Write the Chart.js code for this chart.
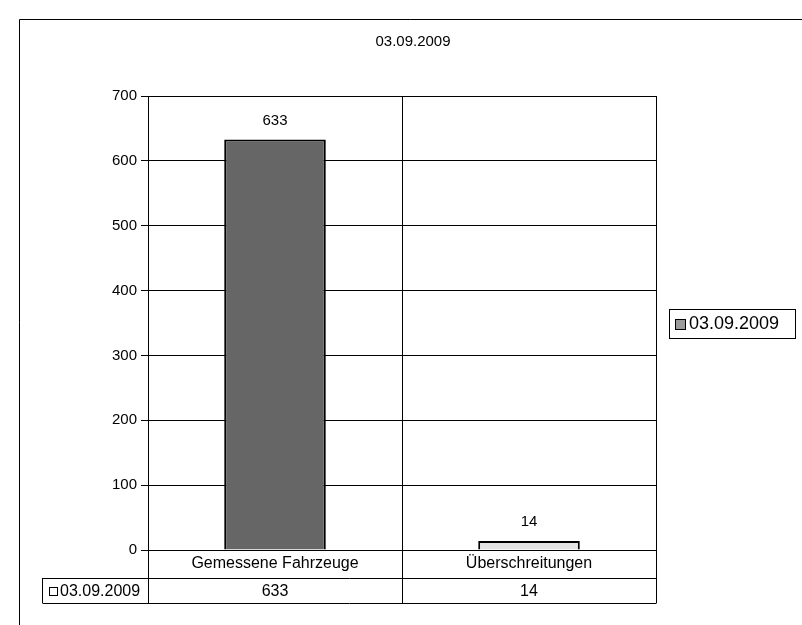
<!DOCTYPE html>
<html>
<head>
<meta charset="utf-8">
<script src="https://cdn.jsdelivr.net/npm/chart.js@4"></script>
<style>
html,body{margin:0;padding:0;background:#fff;}
#wrap{width:802px;height:625px;position:relative;}
</style>
</head>
<body>
<div id="wrap"><canvas id="c" width="802" height="625"></canvas></div>
<script>
const titleText = "03.09.2009";
const seriesName = "03.09.2009";
const categories = ["Gemessene Fahrzeuge", "Überschreitungen"];
const values = [633, 14];
const yTicks = [0, 100, 200, 300, 400, 500, 600, 700];
const barColors = ["#666666", "#e4e4e4"];
const legendKeyColor = "#9a9a9a";

const FONT = "'Liberation Sans', Arial, sans-serif";

const decor = {
  id: "decor",
  afterDatasetsDraw(chart) {
    const ctx = chart.ctx;
    const area = chart.chartArea;
    const xs = chart.scales.x;
    const meta = chart.getDatasetMeta(0);
    ctx.save();
    // data labels
    ctx.fillStyle = "#000";
    ctx.font = "15px " + FONT;
    ctx.textAlign = "center";
    ctx.textBaseline = "middle";
    meta.data.forEach((bar, i) => {
      ctx.fillText(String(values[i]), bar.x, bar.y - 19);
    });
    // right edge dashed
    ctx.strokeStyle = "#000";
    ctx.lineWidth = 1;
    ctx.setLineDash([3, 2]);
    ctx.beginPath();
    ctx.moveTo(Math.round(area.right) + 0.5, area.top);
    ctx.lineTo(Math.round(area.right) + 0.5, area.bottom);
    ctx.stroke();
    ctx.setLineDash([]);

    // data table
    const tTop = area.bottom;
    const r1 = tTop + 28;
    const r2 = tTop + 53;
    const tLeft = 42.5;
    const L = Math.round(area.left) + 0.5;
    const R = Math.round(area.right) + 0.5;
    const mid = Math.round(xs.getPixelForValue(0.5)) + 0.5;
    ctx.lineWidth = 1;
    ctx.beginPath();
    [L, mid, R].forEach(x => { ctx.moveTo(x, tTop); ctx.lineTo(x, r2); });
    ctx.moveTo(tLeft, r1); ctx.lineTo(tLeft, r2);
    ctx.moveTo(tLeft, r1 + 0.5); ctx.lineTo(R, r1 + 0.5);
    ctx.moveTo(tLeft, r2 + 0.5); ctx.lineTo(R, r2 + 0.5);
    ctx.stroke();
    ctx.font = "16px " + FONT;
    ctx.textAlign = "center";
    ctx.textBaseline = "middle";
    categories.forEach((c, i) => {
      const cx = xs.getPixelForValue(i);
      ctx.fillText(c, cx, tTop + 14);
      ctx.fillText(String(values[i]), cx, r1 + 14);
    });
    // legend key in table
    ctx.fillStyle = "#fff";
    ctx.fillRect(49.5, r1 + 9.5, 8, 8);
    ctx.strokeRect(49.5, r1 + 9.5, 8, 8);
    ctx.fillStyle = "#000";
    ctx.textAlign = "left";
    ctx.fillText(seriesName, 60, r1 + 14);

    // right legend
    ctx.strokeRect(669.5, 309.5, 126, 29);
    ctx.fillStyle = legendKeyColor;
    ctx.fillRect(675.5, 319.5, 10, 10);
    ctx.strokeRect(675.5, 319.5, 10, 10);
    ctx.fillStyle = "#000";
    ctx.font = "18px " + FONT;
    ctx.textAlign = "left";
    ctx.fillText(seriesName, 689, 324.5);

    // title
    ctx.font = "15px " + FONT;
    ctx.textAlign = "center";
    ctx.fillText(titleText, 413, 42);

    // outer frame
    ctx.beginPath();
    ctx.moveTo(19.5, 625); ctx.lineTo(19.5, 19.5); ctx.lineTo(802, 19.5);
    ctx.stroke();
    ctx.restore();
  }
};

new Chart(document.getElementById("c"), {
  type: "bar",
  data: {
    labels: categories,
    datasets: [{
      label: seriesName,
      data: values,
      backgroundColor: barColors,
      borderColor: "#000",
      borderWidth: 2,
      barPercentage: 1.0,
      categoryPercentage: 0.4
    }]
  },
  options: {
    responsive: false,
    animation: false,
    devicePixelRatio: 1,
    layout: { padding: { left: 0, right: 146, top: 96, bottom: 75 } },
    plugins: {
      legend: { display: false },
      title: { display: false },
      tooltip: { enabled: false }
    },
    scales: {
      x: {
        offset: true,
        ticks: { display: false },
        grid: {
          offset: true,
          drawTicks: false,
          color: (c) => (c.index === 2 ? "rgba(0,0,0,0)" : "#000"),
          lineWidth: 1
        },
        border: { display: false },
        afterFit: (s) => { s.height = 0; }
      },
      y: {
        min: 0,
        max: 700,
        afterBuildTicks: (s) => { s.ticks = yTicks.map(v => ({ value: v })); },
        ticks: {
          color: "#000",
          font: { family: FONT, size: 15 },
          padding: 4
        },
        grid: { color: "#000", lineWidth: 1, tickLength: 7 },
        border: { color: "#000", width: 1 },
        afterFit: (s) => { s.width = 148; }
      }
    }
  },
  plugins: [decor]
});
</script>
</body>
</html>
